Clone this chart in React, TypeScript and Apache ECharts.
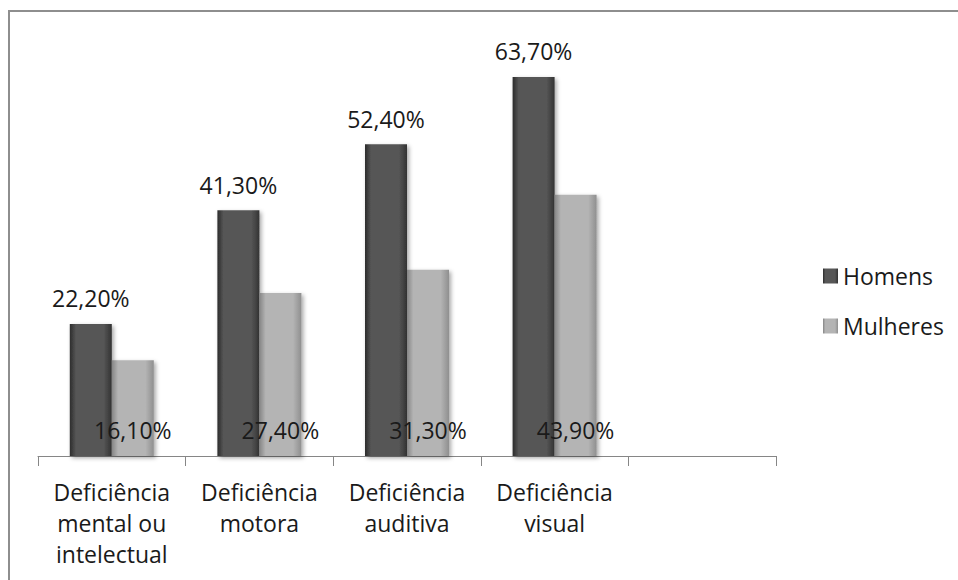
import React, { useEffect, useRef } from "react";
import * as echarts from "echarts";

// Categories (the last slot is an empty category, as in the original sheet)
const categories = [
  "Deficiência\nmental ou\nintelectual",
  "Deficiência\nmotora",
  "Deficiência\nauditiva",
  "Deficiência\nvisual",
  "",
];
const homens = [22.2, 41.3, 52.4, 63.7, null];
const mulheres = [16.1, 27.4, 31.3, 43.9, null];

const FONT = "'Open Sans', 'Noto Sans', sans-serif";

const fmt = (v: number) => v.toFixed(2).replace(".", ",") + "%";

function barGradient(edgeL: string, mid: string, edgeR: string) {
  return new echarts.graphic.LinearGradient(0, 0, 1, 0, [
    { offset: 0, color: edgeL },
    { offset: 0.15, color: mid },
    { offset: 0.8, color: mid },
    { offset: 1, color: edgeR },
  ]);
}

export default function App() {
  const ref = useRef<HTMLDivElement>(null);

  useEffect(() => {
    if (!ref.current) return;
    const chart = echarts.init(ref.current, null, { renderer: "svg" });
    chart.setOption({
      animation: false,
      backgroundColor: "#ffffff",
      graphic: [
        {
          type: "rect",
          shape: { x: 9, y: 11, width: 1200, height: 1200 },
          style: { fill: "none", stroke: "#8e8e8e", lineWidth: 2 },
          silent: true,
        },
      ],
      grid: { left: 38, right: 182, top: 39.5, bottom: 124 },
      legend: {
        orient: "vertical",
        left: 818,
        top: 256,
        itemWidth: 15,
        itemHeight: 15,
        itemGap: 20,
        icon: "rect",
        textStyle: {
          fontFamily: FONT,
          fontSize: 23,
          color: "#1a1a1a",
          lineHeight: 30,
        },
        data: ["Homens", "Mulheres"],
      },
      xAxis: {
        type: "category",
        data: categories,
        axisLine: { lineStyle: { color: "#868686", width: 1 } },
        axisTick: { show: true, length: 10, lineStyle: { color: "#868686" } },
        axisLabel: {
          interval: 0,
          margin: 20,
          fontFamily: FONT,
          fontSize: 23,
          lineHeight: 31,
          color: "#1a1a1a",
        },
      },
      yAxis: {
        type: "value",
        min: 0,
        max: 70,
        show: false,
        splitLine: { show: false },
      },
      series: [
        {
          name: "Homens",
          type: "bar",
          data: homens,
          barWidth: 42,
          barGap: "0%",
          itemStyle: {
            color: barGradient("#2c2c2c", "#575757", "#333333"),
            shadowColor: "rgba(0,0,0,0.35)",
            shadowBlur: 4,
            shadowOffsetX: 2,
            shadowOffsetY: 2,
          },
          label: {
            show: true,
            position: "top",
            distance: 14,
            formatter: (p: any) => fmt(p.value),
            fontFamily: FONT,
            fontSize: 23,
            color: "#1a1a1a",
          },
        },
        {
          name: "Mulheres",
          type: "bar",
          data: mulheres,
          barWidth: 42,
          barGap: "0%",
          itemStyle: {
            color: barGradient("#858585", "#b4b4b4", "#8f8f8f"),
            shadowColor: "rgba(0,0,0,0.35)",
            shadowBlur: 4,
            shadowOffsetX: 2,
            shadowOffsetY: 2,
          },
          label: {
            show: true,
            position: "insideBottom",
            distance: 15,
            formatter: (p: any) => fmt(p.value),
            fontFamily: FONT,
            fontSize: 23,
            color: "#1a1a1a",
          },
        },
      ],
    });
    return () => chart.dispose();
  }, []);

  return (
    <div
      ref={ref}
      style={{ position: "absolute", left: 0, top: 0, width: 958, height: 580 }}
    />
  );
}
